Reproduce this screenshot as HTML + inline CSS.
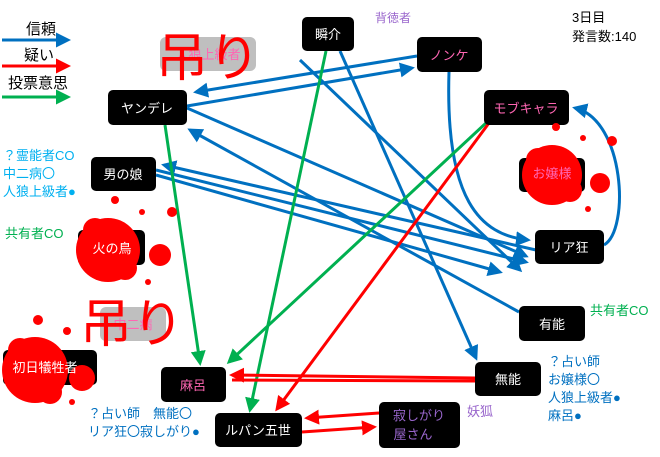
<!DOCTYPE html>
<html><head><meta charset="utf-8"><style>
body{margin:0;background:#fff;}
svg text{font-family:"Liberation Sans","Noto Sans CJK JP",sans-serif;}
</style></head><body>
<svg width="660" height="452" viewBox="0 0 660 452" xmlns="http://www.w3.org/2000/svg">
<defs>
<marker id="ab" markerWidth="5" markerHeight="5" refX="4" refY="2.5" orient="auto" markerUnits="strokeWidth"><path d="M0,0 L5,2.5 L0,5z" fill="#0070c0"/></marker>
<marker id="ar" markerWidth="5" markerHeight="5" refX="4" refY="2.5" orient="auto" markerUnits="strokeWidth"><path d="M0,0 L5,2.5 L0,5z" fill="#ff0000"/></marker>
<marker id="ag" markerWidth="5" markerHeight="5" refX="4" refY="2.5" orient="auto" markerUnits="strokeWidth"><path d="M0,0 L5,2.5 L0,5z" fill="#00b050"/></marker>
</defs>
<!-- legend -->
<text x="26" y="34" font-size="15">信頼</text>
<line x1="2" y1="40" x2="68" y2="40" stroke="#0070c0" stroke-width="3" marker-end="url(#ab)"/>
<text x="24" y="60" font-size="15">疑い</text>
<line x1="2" y1="66" x2="68" y2="66" stroke="#ff0000" stroke-width="3" marker-end="url(#ar)"/>
<text x="8" y="88" font-size="15">投票意思</text>
<line x1="2" y1="97" x2="68" y2="97" stroke="#00b050" stroke-width="3" marker-end="url(#ag)"/>

<!-- blue edges -->
<g stroke="#0070c0" stroke-width="3" fill="none">
<line x1="340" y1="51" x2="476" y2="358" marker-end="url(#ab)"/>
<line x1="187" y1="106" x2="412" y2="68" marker-end="url(#ab)"/>
<line x1="417" y1="56" x2="196" y2="92" marker-end="url(#ab)"/>
<line x1="187" y1="108" x2="526" y2="256" marker-end="url(#ab)"/>
<line x1="519" y1="312" x2="190" y2="130" marker-end="url(#ab)"/>
<line x1="156" y1="175" x2="500" y2="272" marker-end="url(#ab)"/>
<line x1="536" y1="250" x2="164" y2="165" marker-end="url(#ab)"/>
<line x1="156" y1="170" x2="526" y2="262" marker-end="url(#ab)"/>
<line x1="300" y1="60" x2="520" y2="270" marker-end="url(#ab)"/>
<path d="M449,72 C445,200 480,235 528,240" marker-end="url(#ab)"/>
<path d="M604,245 C630,230 625,120 575,108" marker-end="url(#ab)"/>
</g>
<!-- green -->
<g stroke="#00b050" stroke-width="3" fill="none">
<line x1="165" y1="125" x2="200" y2="363" marker-end="url(#ag)"/>
<line x1="326" y1="51" x2="250" y2="410" marker-end="url(#ag)"/>
<line x1="486" y1="123" x2="229" y2="362" marker-end="url(#ag)"/>
</g>
<!-- red -->
<g stroke="#ff0000" stroke-width="3" fill="none">
<line x1="489" y1="123" x2="277" y2="409" marker-end="url(#ar)"/>
<line x1="475" y1="378" x2="232" y2="375" marker-end="url(#ar)"/>
<line x1="475" y1="381" x2="232" y2="380"/>
<line x1="379" y1="413" x2="307" y2="418" marker-end="url(#ar)"/>
<line x1="302" y1="432" x2="374" y2="427" marker-end="url(#ar)"/>
</g>

<!-- dead grey boxes -->
<rect x="160" y="37" width="96" height="34" rx="6" fill="#bfbfbf"/>
<text x="208" y="59" font-size="13" fill="#ff66b3" text-anchor="middle">人狼上級者</text>
<rect x="100" y="307" width="66" height="34" rx="6" fill="#bfbfbf"/>
<text x="133" y="329" font-size="13" fill="#ff66b3" text-anchor="middle">中二病</text>

<!-- nodes -->
<g font-size="13" text-anchor="middle">
<rect x="302" y="17" width="52" height="34" rx="5"/><text x="328" y="39" fill="#fff">瞬介</text>
<rect x="417" y="37" width="65" height="35" rx="5"/><text x="449" y="60" fill="#ff66b3">ノンケ</text>
<rect x="484" y="90" width="85" height="35" rx="5"/><text x="526" y="113" fill="#ff66b3">モブキャラ</text>
<rect x="108" y="90" width="79" height="35" rx="5"/><text x="147" y="113" fill="#fff">ヤンデレ</text>
<rect x="91" y="157" width="65" height="34" rx="5"/><text x="123" y="179" fill="#fff">男の娘</text>
<rect x="535" y="230" width="69" height="34" rx="5"/><text x="569" y="252" fill="#fff">リア狂</text>
<rect x="519" y="306" width="66" height="35" rx="5"/><text x="552" y="329" fill="#fff">有能</text>
<rect x="475" y="362" width="66" height="34" rx="5"/><text x="508" y="384" fill="#fff">無能</text>
<rect x="161" y="367" width="65" height="35" rx="5"/><text x="193" y="390" fill="#ff66b3">麻呂</text>
<rect x="215" y="413" width="87" height="34" rx="5"/><text x="258" y="435" fill="#fff">ルパン五世</text>
<rect x="379" y="402" width="81" height="46" rx="5"/><text x="419" y="420" fill="#9966cc">寂しがり</text><text x="413" y="439" fill="#9966cc">屋さん</text>
<rect x="519" y="158" width="66" height="34" rx="5"/>
<rect x="78" y="230" width="67" height="35" rx="5"/>
<rect x="3" y="350" width="94" height="35" rx="5"/>
</g>

<!-- splats -->
<g fill="#ff0000">
<circle cx="552" cy="175" r="30"/><circle cx="538" cy="160" r="12"/><circle cx="570" cy="190" r="12"/><circle cx="600" cy="183" r="10"/><circle cx="556" cy="127" r="4"/><circle cx="612" cy="141" r="5"/><circle cx="583" cy="138" r="3"/><circle cx="588" cy="209" r="3"/>
<circle cx="108" cy="250" r="32"/><circle cx="95" cy="230" r="12"/><circle cx="125" cy="268" r="12"/><circle cx="160" cy="255" r="11"/><circle cx="115" cy="200" r="4"/><circle cx="142" cy="212" r="3"/><circle cx="172" cy="212" r="5"/><circle cx="148" cy="282" r="3"/>
<circle cx="35" cy="370" r="33"/><circle cx="20" cy="350" r="12"/><circle cx="50" cy="392" r="12"/><circle cx="82" cy="378" r="13"/><circle cx="38" cy="320" r="5"/><circle cx="67" cy="331" r="4"/><circle cx="72" cy="402" r="3"/>
</g>
<g font-size="13" text-anchor="middle">
<text x="552" y="178" fill="#ff66b3">お嬢様</text>
<text x="112" y="253" fill="#fff">火の鳥</text>
<text x="45" y="372" fill="#fff">初日犠牲者</text>
</g>
<!-- 吊り -->
<text x="208" y="76" font-size="52" fill="#ff0000" text-anchor="middle">吊り</text>
<text x="132" y="342" font-size="52" fill="#ff0000" text-anchor="middle">吊り</text>

<!-- annotations -->
<text x="375" y="22" font-size="12" fill="#9966cc">背徳者</text>
<text x="572" y="22" font-size="13">3日目</text>
<text x="572" y="41" font-size="13">発言数:140</text>
<g font-size="13" fill="#00b0f0">
<text x="3" y="160">？霊能者CO</text>
<text x="3" y="178">中二病〇</text>
<text x="3" y="196">人狼上級者●</text>
</g>
<text x="5" y="238" font-size="13" fill="#00b050">共有者CO</text>
<text x="590" y="315" font-size="13" fill="#00b050">共有者CO</text>
<g font-size="13" fill="#0070c0">
<text x="548" y="366">？占い師</text>
<text x="548" y="384">お嬢様〇</text>
<text x="548" y="402">人狼上級者●</text>
<text x="548" y="420">麻呂●</text>
<text x="88" y="418">？占い師　無能〇</text>
<text x="88" y="436">リア狂〇寂しがり●</text>
</g>
<text x="467" y="416" font-size="13" fill="#9966cc">妖狐</text>
</svg>
</body></html>
